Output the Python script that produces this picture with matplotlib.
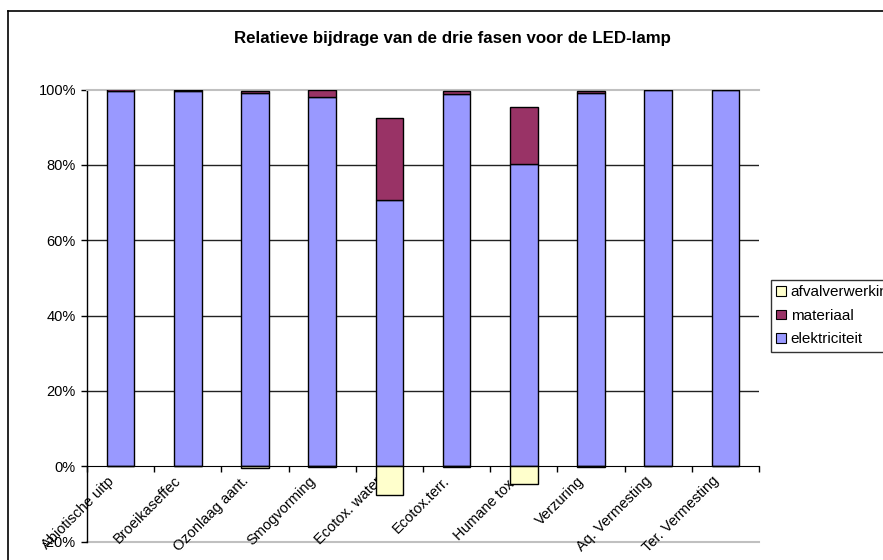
from matplotlib import pyplot as plt
from matplotlib.patches import Patch
from matplotlib.lines import Line2D
import matplotlib.transforms as mtransforms
import numpy as np

plt.rcParams['font.family'] = ['Liberation Sans', 'DejaVu Sans']

categories = ['Abiotische uitp', 'Broeikaseffec', 'Ozonlaag aant.', 'Smogvorming',
              'Ecotox. water', 'Ecotox.terr.', 'Humane tox.', 'Verzuring',
              'Aq. Vermesting', 'Ter. Vermesting']

# share per phase, in percent of the total (absolute values)
elektriciteit = [99.5, 99.6, 99.2, 98.1, 70.7, 98.7, 80.3, 99.0, 100.0, 100.0]
materiaal = [0.5, 0.4, 0.4, 1.7, 21.8, 1.0, 15.1, 0.7, 0.0, 0.0]
afvalverwerking = [0.0, 0.0, -0.4, -0.2, -7.5, -0.3, -4.6, -0.3, 0.0, 0.0]

yticks = [-20, 0, 20, 40, 60, 80, 100]
ytick_labels = ['-20%', '0%', '20%', '40%', '60%', '80%', '100%']

c_elek = '#9999ff'
c_mat = '#993366'
c_afval = '#ffffcc'

W, H = 883, 560
fig = plt.figure(figsize=(W/100, H/100), dpi=100)
ax = fig.add_axes([87/W, (H-541.7)/H, (759-87)/W, (541.7-89.5)/H])

x = np.arange(len(categories))
elek = np.array(elektriciteit)
mat = np.array(materiaal)
afval = np.array(afvalverwerking)

bw = 0.41
kw = dict(width=bw, edgecolor='black', linewidth=1.0, zorder=3)
ax.bar(x, elek, color=c_elek, **kw)
ax.bar(x, mat, bottom=elek, color=c_mat, **kw)
ax.bar(x, afval, color=c_afval, **kw)

ax.set_xlim(-0.5, len(categories) - 0.5)
ax.set_ylim(-20, 100)

# gridlines
for g in [20, 40, 60, 80]:
    ax.axhline(g, color='#222222', lw=1.0, zorder=1)
ax.axhline(-20, color='#c0c0c0', lw=1.5, zorder=1, clip_on=False)

ax.spines['right'].set_visible(False)
ax.spines['top'].set_color('#c0c0c0')
ax.spines['top'].set_linewidth(1.5)
ax.spines['bottom'].set_position(('data', 0))
ax.spines['bottom'].set_zorder(4)
ax.spines['left'].set_linewidth(1.0)

ax.set_yticks(yticks)
ax.set_yticklabels(ytick_labels, fontsize=10.5)
ax.tick_params(axis='y', direction='out', length=4, width=1, pad=4)

ax.set_xticks(x)
ax.set_xticks(np.arange(len(categories) + 1) - 0.5, minor=True)
ax.tick_params(axis='x', which='minor', direction='out', length=4, width=1)
ax.tick_params(axis='x', which='major', length=0, pad=9)
ax.set_xticklabels(categories, fontsize=10.5, rotation=45, ha='right',
                   va='center', rotation_mode='anchor')
offset = mtransforms.ScaledTranslation(-9/100, 0, fig.dpi_scale_trans)
for lbl in ax.get_xticklabels():
    lbl.set_transform(lbl.get_transform() + offset)

fig.text(452/W, 1 - 39/H, 'Relatieve bijdrage van de drie fasen voor de LED-lamp',
         ha='center', va='center', fontsize=12.2, weight='bold')

handles = [Patch(facecolor=c_afval, edgecolor='black', lw=0.8),
           Patch(facecolor=c_mat, edgecolor='black', lw=0.8),
           Patch(facecolor=c_elek, edgecolor='black', lw=0.8)]
leg = fig.legend(handles, ['afvalverwerking', 'materiaal', 'elektriciteit'],
                 loc='upper left', bbox_to_anchor=(771/W, 1 - 280/H),
                 fontsize=11, frameon=True, fancybox=False, edgecolor='black',
                 borderaxespad=0, handlelength=0.6, handleheight=0.6,
                 handletextpad=0.35, labelspacing=0.62, borderpad=0.35)
leg.get_frame().set_linewidth(1.0)

# outer frame of the chart area
fig.add_artist(Line2D([8/W, 8/W], [0, 1 - 11/H], transform=fig.transFigure,
                      color='black', lw=1.2))
fig.add_artist(Line2D([8/W, 1], [1 - 11/H, 1 - 11/H], transform=fig.transFigure,
                      color='black', lw=1.2))

fig.savefig('out.png', dpi=100)
